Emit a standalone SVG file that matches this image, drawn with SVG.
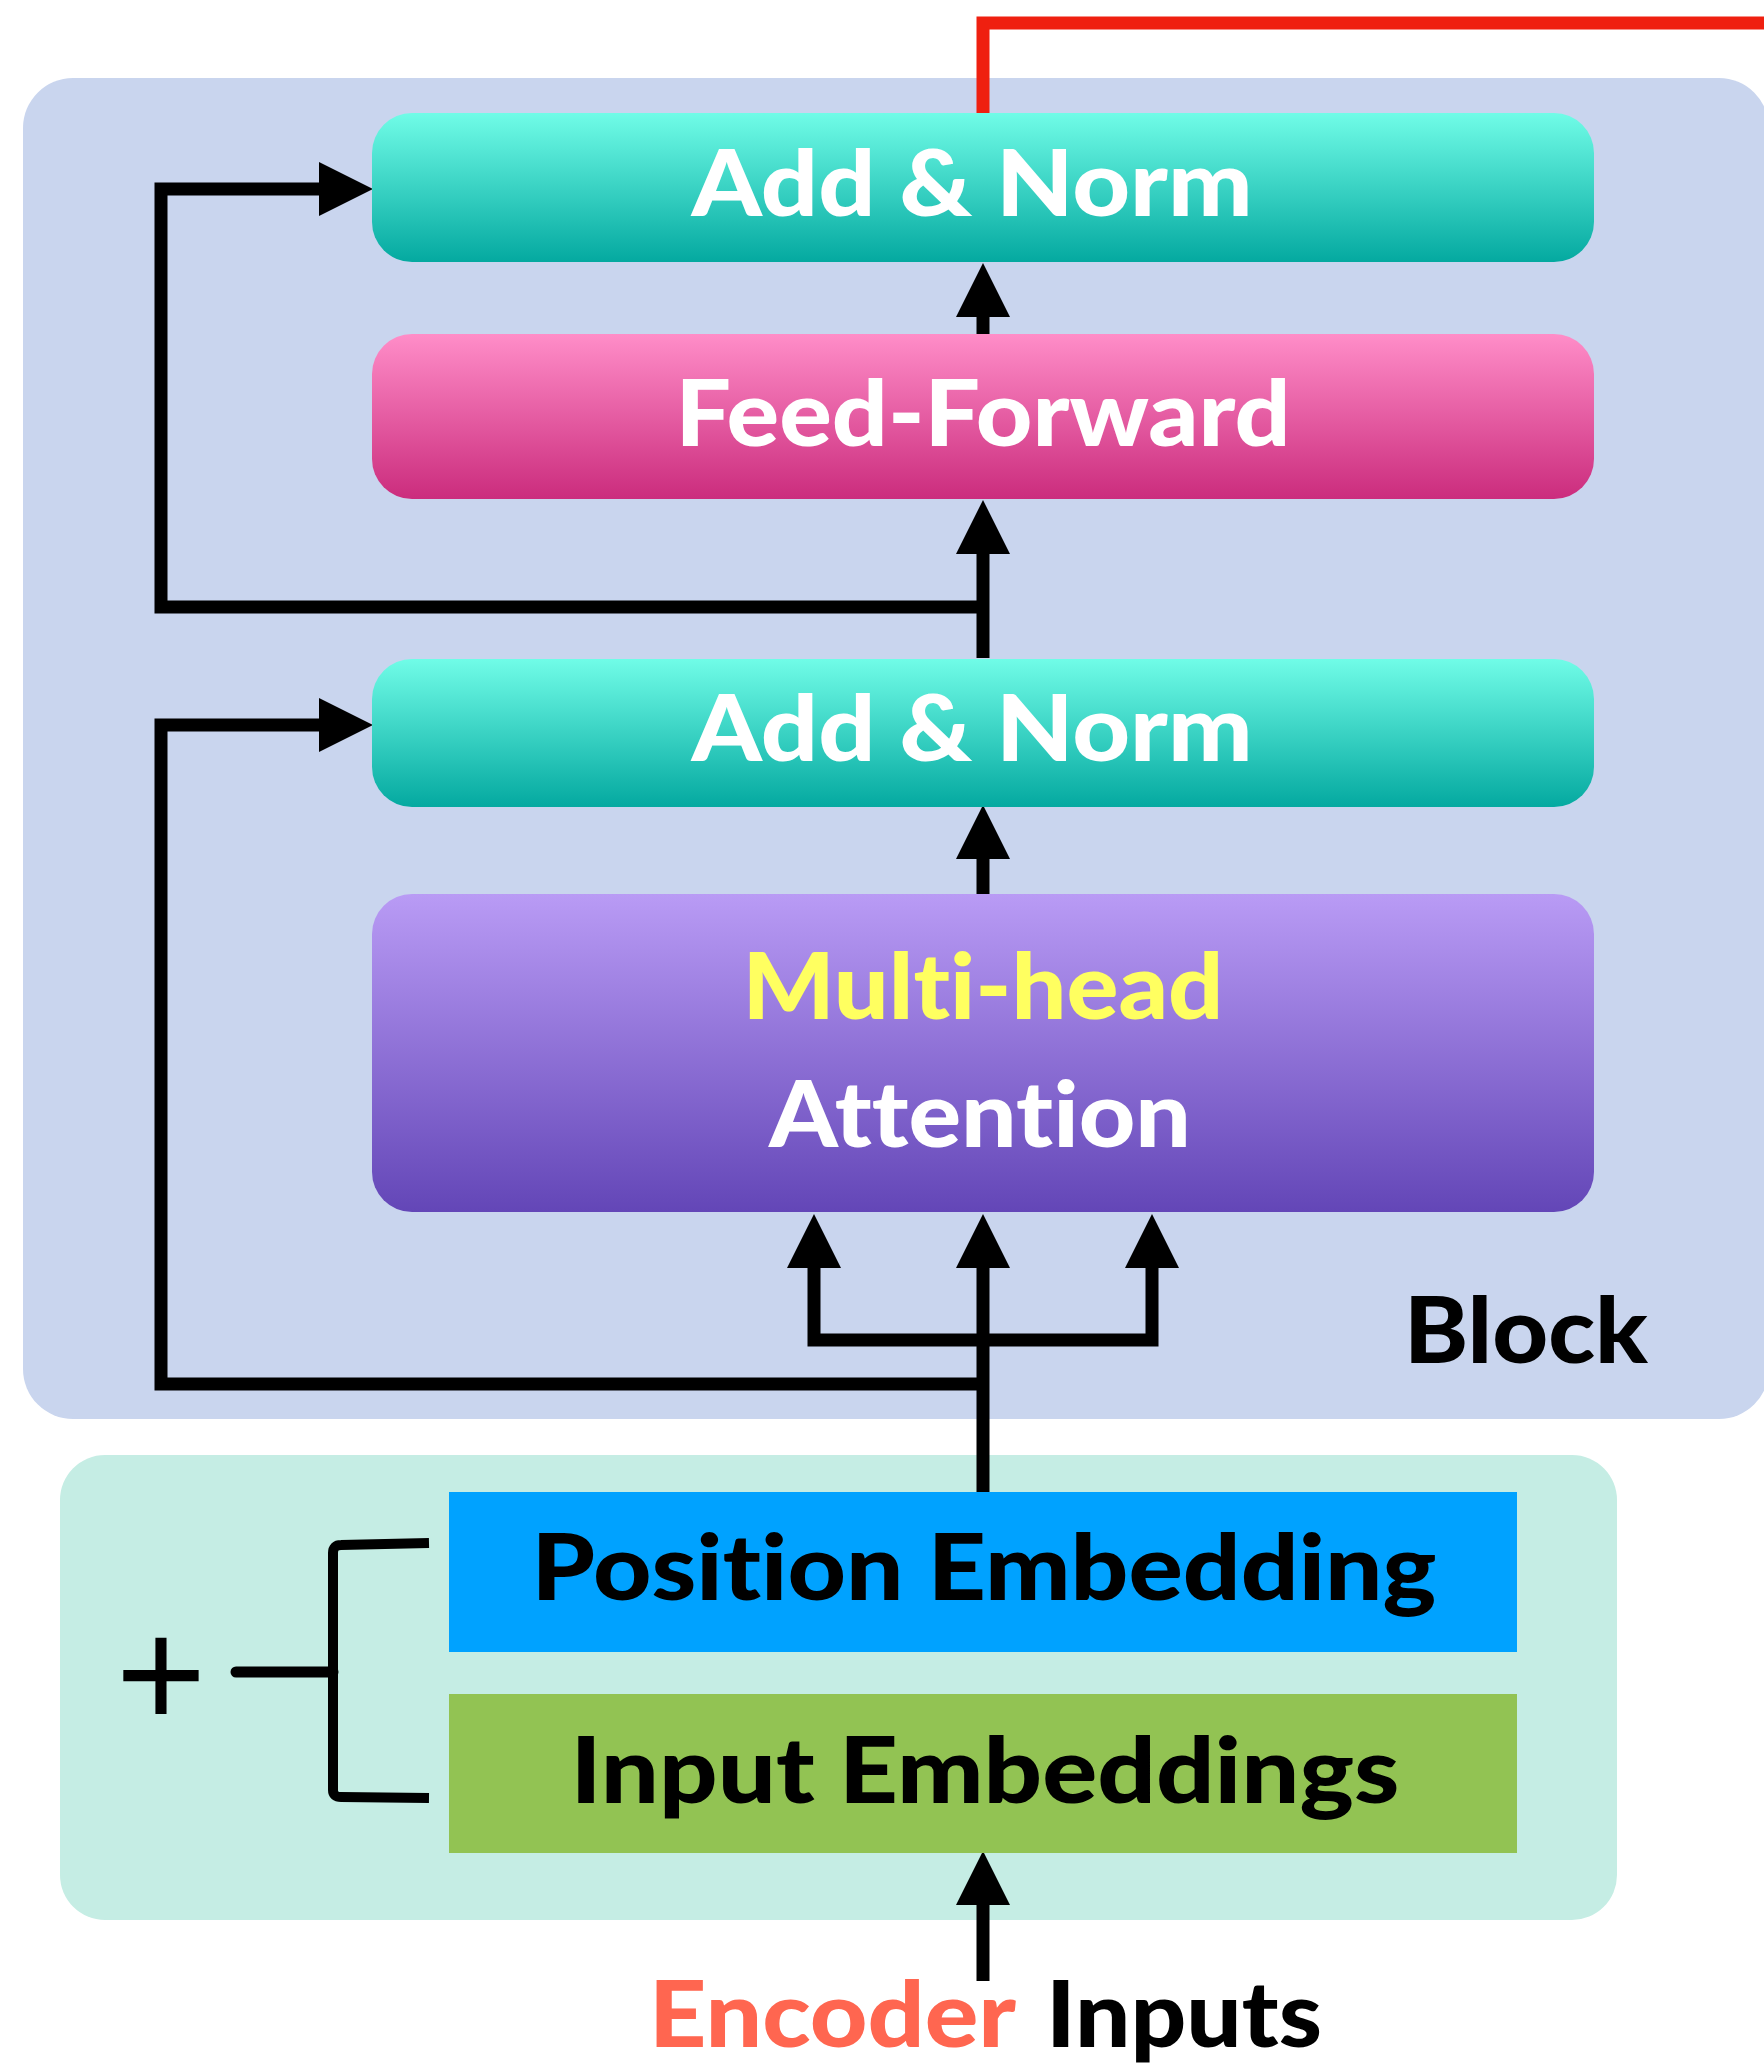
<svg xmlns="http://www.w3.org/2000/svg" width="1764" height="2069" viewBox="0 0 1764 2069">
  <defs>
    <linearGradient id="gNorm" x1="0" y1="0" x2="0" y2="1">
      <stop offset="0" stop-color="#70FCE7"/>
      <stop offset="1" stop-color="#04A9A0"/>
    </linearGradient>
    <linearGradient id="gFF" x1="0" y1="0" x2="0" y2="1">
      <stop offset="0" stop-color="#FF8DC8"/>
      <stop offset="1" stop-color="#CB2C7D"/>
    </linearGradient>
    <linearGradient id="gMHA" x1="0" y1="0" x2="0" y2="1">
      <stop offset="0" stop-color="#B99BF5"/>
      <stop offset="1" stop-color="#6346B7"/>
    </linearGradient>
    <marker id="head" viewBox="0 0 54 54" markerWidth="54" markerHeight="54" markerUnits="userSpaceOnUse" refX="0" refY="27" orient="auto">
      <path d="M0,0 L54,27 L0,54 Z" fill="#000"/>
    </marker>
    <style>
      .lbl { font-family: "Lato", "Liberation Sans", sans-serif; font-weight: 900; font-size: 92px;
             font-variant-ligatures: none; font-feature-settings: "liga" 0, "clig" 0; }
      .white { fill: #FFFFFF; }
      .black { fill: #000000; }
      .wire { fill: none; stroke: #000; stroke-width: 13; stroke-linejoin: miter; }
      .arrow { marker-end: url(#head); }
    </style>
  </defs>

  <rect width="1764" height="2069" fill="#FFFFFF"/>

  <!-- outer block container -->
  <g id="block">
    <rect x="23" y="78" width="1746" height="1341" rx="50" ry="50" fill="#C9D5EE"/>
    <text class="lbl black" x="1526" y="1363" text-anchor="middle" font-size="97" textLength="244" lengthAdjust="spacingAndGlyphs">Block</text>
  </g>

  <!-- embedding container -->
  <g id="embeddings">
    <rect x="60" y="1455" width="1557" height="465" rx="45" ry="45" fill="#C5EDE4"/>
  </g>

  <!-- output line leaving the block -->
  <path id="output-line" d="M983,113 V23 H1764" fill="none" stroke="#EF2010" stroke-width="13"/>

  <!-- connectors -->
  <g id="connectors">
    <path class="wire arrow" d="M983,607 H161 V189 H319"/>
    <path class="wire arrow" d="M983,334 V317"/>
    <path class="wire arrow" d="M983,658 V554"/>
    <path class="wire arrow" d="M983,1384 H161 V725 H319"/>
    <path class="wire arrow" d="M983,894 V859"/>
    <path class="wire arrow" d="M983,1492 V1268"/>
    <path class="wire arrow" d="M983,1340 H814 V1268"/>
    <path class="wire arrow" d="M983,1340 H1152 V1268"/>
    <path class="wire arrow" d="M983,1981 V1905"/>
    <!-- summing bracket -->
    <path d="M429,1543 L341,1545 Q333,1545 333,1553 V1790 Q333,1797 341,1797 L429,1798" fill="none" stroke="#000" stroke-width="10"/>
    <path d="M236,1672 L333,1672" fill="none" stroke="#000" stroke-width="11" stroke-linecap="round"/>
  </g>

  <g id="add-norm-top">
    <rect x="372" y="113" width="1222" height="149" rx="40" ry="40" fill="url(#gNorm)"/>
    <text class="lbl white" x="972" y="216" text-anchor="middle" textLength="561" lengthAdjust="spacingAndGlyphs">Add &amp; Norm</text>
  </g>

  <g id="feed-forward">
    <rect x="372" y="334" width="1222" height="165" rx="40" ry="40" fill="url(#gFF)"/>
    <text class="lbl white" x="983" y="446" text-anchor="middle" textLength="615" lengthAdjust="spacingAndGlyphs">Feed-Forward</text>
  </g>

  <g id="add-norm-bottom">
    <rect x="372" y="659" width="1222" height="148" rx="40" ry="40" fill="url(#gNorm)"/>
    <text class="lbl white" x="972" y="761" text-anchor="middle" textLength="561" lengthAdjust="spacingAndGlyphs">Add &amp; Norm</text>
  </g>

  <g id="multi-head-attention">
    <rect x="372" y="894" width="1222" height="318" rx="40" ry="40" fill="url(#gMHA)"/>
    <text class="lbl" x="983" y="1019" text-anchor="middle" fill="#FFFF60" textLength="481" lengthAdjust="spacingAndGlyphs">Multi-head</text>
    <text class="lbl white" x="980" y="1147" text-anchor="middle" textLength="422" lengthAdjust="spacingAndGlyphs">Attention</text>
  </g>

  <g id="position-embedding">
    <rect x="449" y="1492" width="1068" height="160" fill="#00A2FF"/>
    <text class="lbl black" x="984" y="1600" text-anchor="middle" textLength="905" lengthAdjust="spacingAndGlyphs">Position Embedding</text>
  </g>

  <g id="input-embeddings">
    <rect x="449" y="1694" width="1068" height="159" fill="#92C353"/>
    <text class="lbl black" x="985" y="1803" text-anchor="middle" textLength="829" lengthAdjust="spacingAndGlyphs">Input Embeddings</text>
  </g>

  <g id="plus">
    <text x="161" y="1728" text-anchor="middle" font-family="Liberation Sans, sans-serif" font-size="155" fill="#000">+</text>
  </g>

  <g id="encoder-inputs">
    <text class="lbl" x="649" y="2047" fill="#FF6650" textLength="367" lengthAdjust="spacingAndGlyphs">Encoder</text>
    <text class="lbl black" x="1046" y="2047" textLength="276" lengthAdjust="spacingAndGlyphs">Inputs</text>
  </g>
</svg>
